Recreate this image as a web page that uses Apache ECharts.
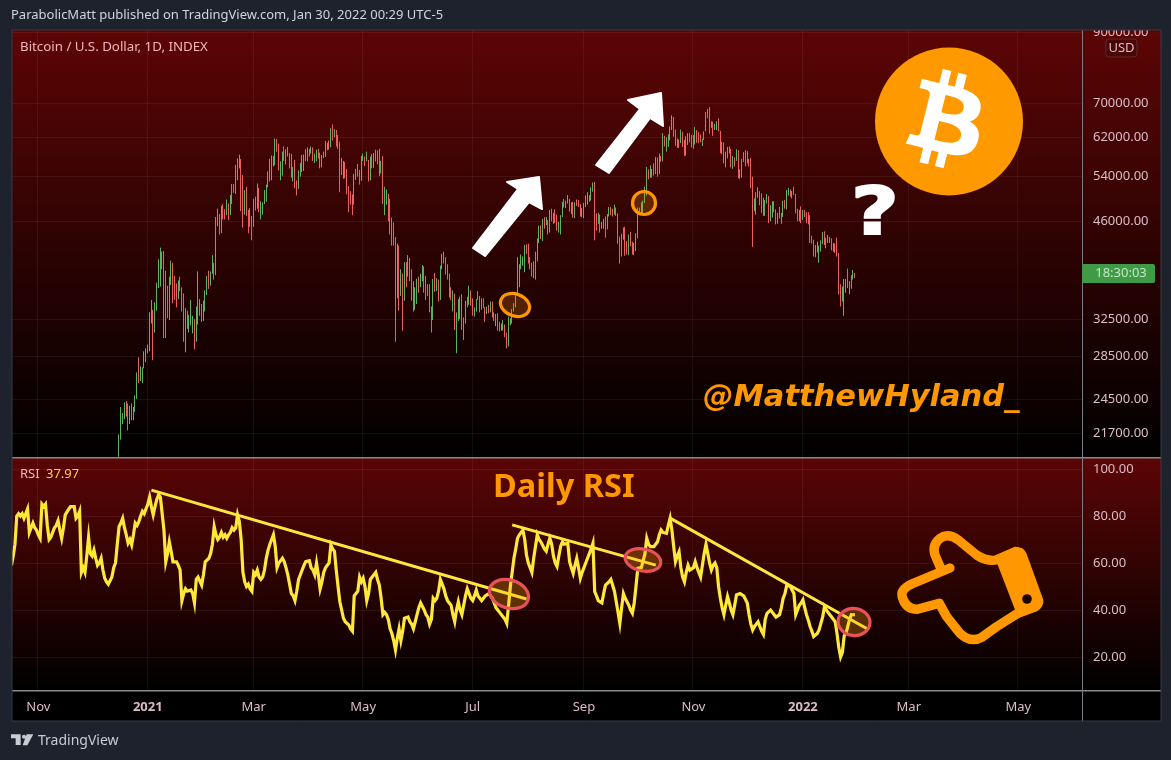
<!DOCTYPE html>
<html><head><meta charset="utf-8">
<style>html,body{margin:0;padding:0;background:#1e222d;overflow:hidden}#c{width:1171px;height:760px}</style>
<script src="https://cdn.jsdelivr.net/npm/echarts@6/dist/echarts.min.js"></script>
</head><body><div id="c"></div>
<script>
const priceTicks=[21700,24500,28500,32500,46000,54000,62000,70000,90000];
const rsiTicks=[20,40,60,80,100];
const firstDay='2020-10-17', lastDay='2022-06-05', firstCandle='2020-12-16';
// daily closes (thousand USD) from 2020-12-16
const closes=[21.3,22.8,23.1,23.8,23.45,22.7,23.8,23.2,23.7,24.65,26.4,26.25,27.05,27.35,28.9,29.0,
29.4,32.2,33.0,32.0,34.0,36.8,39.5,40.6,40.2,38.2,35.5,33.9,37.3,39.1,36.8,36.0,35.8,36.6,35.9,35.5,30.8,33.0,32.1,32.3,32.3,32.5,30.4,33.4,34.3,34.3,33.1,
33.5,35.5,37.7,36.9,38.3,39.3,38.9,46.4,46.5,45.0,48.0,47.4,47.2,48.7,47.9,49.1,52.1,51.6,55.9,55.9,57.4,54.1,48.9,49.7,47.0,46.3,46.1,45.2,
49.6,48.4,50.3,48.4,48.8,48.9,50.9,52.3,54.9,55.9,57.8,57.2,61.2,59.0,55.6,56.9,58.9,57.6,58.0,58.1,57.4,54.1,54.3,52.3,51.3,55.0,55.8,55.8,57.6,58.8,58.8,
58.7,58.9,57.0,58.2,59.1,58.0,55.9,58.1,58.1,59.8,59.9,59.8,63.5,62.9,63.2,61.3,60.0,56.2,55.7,56.5,53.8,51.7,51.2,50.1,49.1,54.0,55.0,54.8,53.6,57.7,
57.8,56.6,57.2,53.2,57.5,56.4,57.3,58.9,58.3,55.8,56.7,49.5,49.7,49.9,46.7,46.4,43.6,42.9,37.0,40.6,37.3,37.5,34.8,38.8,38.3,39.2,38.5,35.7,34.6,35.7,37.3,
36.7,37.6,39.2,36.9,35.5,35.8,33.6,33.4,37.4,36.7,37.3,35.5,39.0,40.5,40.1,38.3,38.1,35.8,35.5,35.6,31.6,32.5,33.7,34.6,31.6,32.3,34.7,34.5,35.9,35.0,
33.5,33.8,34.7,35.3,33.7,34.2,33.9,32.9,33.8,33.5,34.3,33.1,32.7,32.8,31.8,31.4,31.5,31.8,30.8,29.8,32.1,32.3,33.6,34.3,35.4,37.3,39.5,40.0,40.0,42.2,41.5,
39.9,39.2,38.2,39.7,40.9,42.8,44.6,43.8,46.3,45.6,45.6,44.4,47.8,47.1,47.0,45.9,44.7,44.8,46.7,49.3,48.9,49.3,49.5,47.7,49.0,46.9,49.1,48.9,48.8,47.0,47.1,
48.8,49.3,50.0,49.9,51.8,52.7,46.9,46.1,46.4,44.9,45.2,46.1,44.9,47.1,48.1,47.8,47.3,48.3,47.3,43.0,40.7,43.6,44.9,42.8,42.7,43.2,42.2,41.0,41.5,43.8,
48.1,47.7,48.2,49.2,51.5,55.3,53.8,53.9,55.0,54.7,57.5,56.0,57.4,57.3,61.7,60.9,61.5,62.0,64.3,65.9,62.2,60.7,61.3,60.9,63.1,60.3,58.4,60.6,62.3,61.9,61.3,
60.9,63.2,62.9,61.4,61.0,61.5,63.3,67.5,66.9,64.9,64.9,64.1,64.4,65.5,63.6,60.3,60.4,56.9,58.1,59.7,58.7,56.3,57.6,57.2,58.9,53.6,54.8,57.3,57.8,57.0,
57.2,56.5,53.6,49.2,49.4,50.6,50.6,50.5,47.7,47.2,49.4,50.1,46.7,48.4,48.9,47.6,46.2,46.9,46.7,46.9,49.0,48.6,50.8,50.8,50.4,50.8,50.7,47.5,46.5,47.1,46.3,
47.7,47.3,46.4,45.8,43.4,43.1,41.5,41.7,41.8,41.8,42.7,43.9,42.6,43.1,43.1,43.1,42.2,42.4,41.7,40.7,36.5,35.1,36.3,36.7,36.9,36.8,37.2,37.7,38.2,38.0];
const highs=[21.6,23.8,23.3,24.2,24.3,24.1,23.9,24.1,23.8,24.8,26.9,28.4,27.5,27.4,29.0,29.3,
29.7,33.3,34.8,33.6,34.5,37.0,40.2,41.9,41.3,41.4,38.6,36.6,37.8,40.0,39.7,37.9,36.9,37.3,37.8,36.4,35.6,33.8,33.5,33.0,34.8,32.9,32.5,34.0,38.5,34.9,34.3,
34.7,36.0,37.9,38.6,38.5,40.8,39.7,46.7,48.1,47.2,48.6,48.9,48.0,49.7,49.0,50.5,52.5,52.5,56.2,57.5,58.3,57.4,54.2,51.4,52.0,47.9,48.2,46.9,
49.8,50.2,52.6,51.8,49.4,49.2,51.4,52.4,54.9,57.4,58.1,58.0,61.7,61.6,60.6,56.9,58.9,60.0,59.4,59.9,58.6,58.4,55.8,57.2,53.2,55.1,56.6,58.2,58.3,59.4,59.8,
59.5,60.0,59.8,58.5,59.3,59.5,58.7,58.2,58.9,61.2,60.8,61.3,64.0,64.9,63.8,63.6,62.5,61.0,57.6,57.0,56.8,55.4,52.1,51.2,50.6,54.4,55.4,56.4,55.2,58.0,
58.5,57.9,58.9,57.2,57.9,58.4,58.6,59.3,59.2,59.5,57.0,58.0,52.0,51.5,50.7,49.8,46.6,45.8,43.5,42.5,42.2,38.8,38.2,39.8,39.8,40.8,40.4,38.8,37.2,36.4,37.5,
37.8,38.2,39.4,39.2,37.9,36.8,36.8,34.0,37.5,38.3,37.6,37.4,39.3,41.0,41.3,40.5,39.5,38.2,36.4,36.0,35.6,33.3,34.9,35.2,35.5,32.7,34.7,35.2,36.6,36.0,
35.0,33.9,34.9,35.9,35.3,35.0,35.0,33.9,34.0,34.2,34.6,34.6,33.3,33.1,33.2,32.2,32.0,32.4,31.9,31.0,32.8,32.6,33.7,34.4,35.4,40.5,39.5,40.9,40.6,42.3,42.4,
42.5,40.5,39.7,39.9,41.3,43.3,45.3,45.3,46.4,46.7,46.7,46.2,47.9,48.1,47.4,48.0,47.1,45.9,47.0,49.3,49.8,49.5,50.5,49.8,49.2,49.3,49.2,49.7,49.6,48.9,48.2,
49.1,50.4,51.0,50.5,51.9,52.8,52.9,47.3,47.4,47.1,45.9,46.4,46.8,47.2,48.4,48.4,48.1,48.8,48.3,47.3,43.6,44.0,45.0,45.1,42.9,43.9,44.3,42.8,42.6,44.1,
48.3,48.3,49.2,49.5,52.0,55.8,55.3,56.1,55.4,56.5,57.8,57.7,58.5,58.0,62.9,62.3,62.0,62.6,64.4,67.0,66.6,63.7,61.7,61.5,63.7,63.2,61.4,62.2,62.9,62.9,62.5,
62.5,64.3,63.6,63.1,62.6,61.7,63.3,67.8,68.5,69.0,65.6,65.5,65.0,65.6,66.3,63.4,61.0,60.9,58.9,59.9,60.0,59.5,58.0,57.7,59.4,59.2,55.3,57.4,58.8,59.2,
59.0,57.4,57.6,53.9,49.9,51.0,51.9,51.2,50.8,50.0,49.6,50.7,50.3,48.7,49.4,49.4,48.0,47.4,48.4,47.4,49.5,49.6,51.4,51.8,51.5,51.2,52.0,50.7,48.1,47.9,48.5,
47.9,47.9,47.5,47.5,47.0,43.7,43.1,42.3,42.8,42.2,43.0,44.3,44.4,43.4,43.8,43.5,43.3,42.6,42.5,43.4,41.1,36.8,36.5,37.5,37.5,38.9,37.2,38.0,38.7,38.3];
const lows=[19.95,21.2,22.4,22.8,23.0,21.9,22.4,22.7,22.7,23.4,24.5,25.9,26.1,25.9,27.3,27.9,
28.8,29.0,32.0,28.1,31.0,33.5,36.3,36.5,38.8,30.4,30.4,32.6,32.4,36.7,34.4,34.8,33.9,34.9,35.9,33.4,30.0,28.9,31.4,31.0,31.8,30.9,29.2,30.0,31.9,32.9,32.2,
32.3,33.4,35.4,36.2,36.6,38.2,37.4,38.0,45.2,43.9,44.1,46.3,46.3,47.0,46.2,47.0,48.9,50.9,50.7,53.2,55.5,47.7,45.0,47.1,46.9,44.1,45.1,43.0,
45.1,47.8,48.1,47.5,46.3,47.1,48.9,49.3,51.9,53.0,53.2,55.9,56.1,58.9,55.1,53.2,54.1,57.0,56.3,57.9,55.5,53.7,53.0,51.7,50.4,51.6,53.9,54.8,55.0,57.0,56.9,
57.9,58.5,57.0,56.6,56.9,57.5,55.5,55.7,57.6,57.8,59.2,59.3,59.8,61.3,62.0,60.0,59.5,51.0,54.2,53.5,53.6,50.6,47.5,48.8,47.0,48.8,53.3,53.9,52.4,53.1,
57.0,56.0,56.9,53.0,53.2,55.5,55.6,56.9,56.3,54.0,54.5,48.9,47.0,48.8,46.0,43.9,42.2,42.2,30.0,35.0,33.5,35.3,31.2,34.7,36.4,37.8,37.2,34.7,33.4,33.6,34.3,
35.7,36.4,37.2,35.7,34.8,35.3,33.3,31.0,32.4,35.8,35.9,34.6,34.8,38.8,39.6,38.1,37.4,35.1,34.8,33.4,31.3,28.8,32.3,32.5,31.3,30.2,32.0,33.9,34.2,34.1,
32.9,32.8,33.4,34.8,33.3,33.6,33.8,32.2,33.1,33.2,33.3,32.7,32.3,31.7,31.2,31.1,31.2,31.2,30.5,29.3,29.5,31.8,32.0,33.4,33.9,35.3,36.4,38.8,39.3,38.4,41.0,
39.6,38.8,37.8,37.6,37.4,39.9,42.6,43.2,42.9,44.8,45.4,43.9,44.2,46.0,45.6,45.7,44.5,44.2,43.9,46.7,48.3,48.2,49.0,47.6,47.2,46.6,46.5,48.6,48.4,46.8,46.7,
46.5,48.4,48.8,49.3,49.5,51.1,43.0,44.5,45.6,44.2,44.8,44.8,43.4,44.7,46.8,47.0,46.8,47.1,46.9,42.5,39.6,40.6,43.1,40.7,40.9,40.8,42.1,40.9,40.8,41.4,
43.3,47.5,47.3,47.2,49.1,50.4,53.4,53.7,53.7,54.1,54.4,53.9,54.4,56.8,56.9,60.0,58.9,59.9,61.3,63.6,62.1,60.1,59.7,59.7,60.7,59.9,58.0,58.1,60.3,60.9,59.8,
59.5,60.4,60.8,60.7,60.9,60.1,61.4,63.3,66.3,62.8,64.1,62.3,63.6,63.6,63.3,58.6,58.4,56.5,55.7,57.5,58.5,55.7,55.4,55.9,57.0,53.6,53.5,53.7,56.8,55.9,
56.5,55.9,51.7,42.0,47.7,47.1,50.0,48.7,47.4,46.9,46.9,49.0,45.7,46.0,46.6,47.5,45.5,45.6,46.5,45.6,46.7,48.1,48.0,50.4,50.2,49.9,50.5,47.3,46.0,46.0,45.7,
46.2,46.7,45.7,45.5,42.6,42.5,40.6,40.5,41.2,39.7,41.3,42.4,42.3,41.8,42.6,42.6,41.5,41.3,41.1,40.6,35.5,34.0,34.6,32.9,35.7,36.3,35.5,36.2,37.4,37.6];
const firstOpen=19.95;
// daily RSI from 2020-10-17
const rsi=[59,63,68,80,81,80,81,79,81,83,
73,75,77,75,74,72,70.5,85,84,85,
76,70,71,73,75,76,78,74,70.5,75,
80.5,81,83,84,84,84,79,80,82,56,
58,56,63,71,64,63,65.5,62,59,60,
62,57,53.5,52,51,51,54,58,60,68,
75.5,77,79,75,72,68.5,70,67.7,72,77,
76,77.6,80,82,81,83,85,88,84,80.5,
84,87,89,88,87.5,74,60.5,64,69,65,
60.5,61,60.5,59,57,44,47,49,48,48,
48.5,47,43,53,54,53.5,50.6,55,60.5,61,
62,64,68,75.5,72,70,71,73,71,72,
70.5,72,73,75,74,75,80.5,77.6,70,56,
52,50,51,49,48,56,55,57,54,53,
54,57,62,65.5,68,70,72,67,58,60,
61,62,60.6,58,55,51,47,46,44,48,
53,55,57,59,60.6,60,61,58,57,55,
60,55,49,52,56,58,59,60,67.7,66,
65,57,50,43.5,40,36.5,35,35,33.6,32,
31,46,47,48,54,52,53.5,50,44,47,
53,54,55,56,53,50.6,45,38,39,38,
36,32,30,27,23,28,32,27,31,36.5,
36,37,35,34,32,35,38,41,43,43.5,
40,38,37,34,36,45,44,45,48,53,
51,49,46,44,43,42,38,35,40,43.5,
40,38,42,46,49,47,45,44,46,48.5,
46,45,44,45,46,46,47,47,45,43,
41,40,39,38.6,37,36,34.3,42,50,56,
62,66,70.5,72,73,74,70,63.4,60,58,
56,62,67,72,70,69,68.4,66,65,68,
70.5,68,63,60,58.5,63,67,69,68,68,
68.4,60.6,58,55.6,59,62,58,53.5,56,58,
60,62,64,66,68.4,47.8,46,44,44,43,
47,50.6,51,52,53,53.5,48,43.5,39,34.3,
41,47,45,43.5,42,40,38.6,43,50,57.7,
58,58,58.5,64,70.5,68,67,66.2,67,66.2,
69,72,74,73,73,72.6,76,79,74,67,
60.6,63,64.8,58,54,52,56,59,57,56.3,
58,60.6,58,56,54,59,64,68,64,60,
57,59,60,58,50,45,41,38,42,45.7,
43,40,38,42,46.4,46,47,47,46,45.7,
43,38,34,31.5,33,34,35,33,31,29.6,
36,38.6,39,40,39,38,37,36.5,38,41,
45,47,50.6,51,50,50,47,38,40,42,
43,44.3,41,38,35.7,33,31,28.7,29,30,
31.5,31,37,41.4,40,39,38,37,36,35,
30,24,20,22,29,30,33,36,38,38,37.97];
const trend1=[['2021-01-03',91],['2021-07-31',44.7]];
const trend2=[['2021-07-23',76.2],['2021-10-11',59.1]];
const trend3=[['2021-10-19',79.1],['2022-02-06',31.9]];

const DAY=864e5;
const iso=t=>new Date(t).toISOString().slice(0,10);
const categories=[];
for(let t=Date.parse(firstDay);t<=Date.parse(lastDay);t+=DAY)categories.push(iso(t));
const candleStart=categories.indexOf(firstCandle);
const candles=closes.map((c,i)=>[candleStart+i,(i?closes[i-1]:firstOpen)*1000,c*1000,lows[i]*1000,highs[i]*1000]);
const isMonthTick=s=>s.slice(8)==='01'&&(+s.slice(5,7))%2===1;
const tickFn=(i,v)=>isMonthTick(v);
const MONTHS=['Jan','Feb','Mar','Apr','May','Jun','Jul','Aug','Sep','Oct','Nov','Dec'];
const TXT='#dcbcc6', FONT='"Noto Sans",sans-serif', ORANGE='#ff9800', PAGE='#1e222d';
const GRID='rgba(255,255,255,0.06)';
const bgGrad={type:'linear',x:0,y:0,x2:0,y2:1,colorStops:[{offset:0,color:'#5c0505'},{offset:1,color:'#000'}]};
const rect=(x,y,w,h,fill,z,extra)=>Object.assign({type:'rect',silent:true,z:z,shape:{x:0,y:0,width:w,height:h},x:x,y:y,style:{fill:fill}},extra||{});
const txt=(x,y,s,fill,size,z,extra,style)=>Object.assign({type:'text',silent:true,z:z,x:x,y:y,style:Object.assign({text:s,fill:fill,font:size+'px '+FONT,textVerticalAlign:'middle'},style||{})},extra||{});
const ell=(cx,cy,rx,ry,rot,stroke,fill)=>({type:'ellipse',silent:true,z:30,x:cx,y:cy,rotation:rot,shape:{cx:0,cy:0,rx:rx,ry:ry},style:{stroke:stroke,lineWidth:3.2,fill:fill}});
const pathEl=(d,x,y,s,style)=>({type:'path',x:x,y:y,scaleX:s,scaleY:s,shape:{pathData:d},style:style});
const BTC='M46.103 27.444c.637-4.258-2.605-6.547-7.038-8.074l1.438-5.768-3.511-.875-1.4 5.616c-.923-.23-1.871-.447-2.813-.662l1.41-5.653-3.509-.875-1.439 5.766c-.764-.174-1.514-.346-2.242-.527l.004-.018-4.842-1.209-.934 3.75s2.605.597 2.55.634c1.422.355 1.679 1.296 1.636 2.042l-1.638 6.571c.098.025.225.061.365.117l-.371-.092-2.296 9.205c-.174.432-.615 1.08-1.609.834.035.051-2.552-.637-2.552-.637l-1.743 4.019 4.569 1.139c.85.213 1.683.436 2.503.646l-1.453 5.834 3.507.875 1.439-5.772c.958.26 1.888.5 2.798.726l-1.434 5.745 3.511.875 1.453-5.823c5.987 1.133 10.489.676 12.384-4.739 1.527-4.36-.076-6.875-3.226-8.515 2.294-.529 4.022-2.038 4.483-5.155zM38.08 38.69c-1.085 4.36-8.426 2.003-10.806 1.412l1.928-7.729c2.38.594 10.012 1.77 8.878 6.317zm1.086-11.31c-.99 3.966-7.1 1.951-9.082 1.457l1.748-7.01c1.982.494 8.365 1.416 7.334 5.553z';
const ARROW1='M473 248L518 189L507 182L539 177L542 209L529 202L485 256Z';
const ARROW2='M596 165L640 109L628 100L661 93L663 126L650 118L609 173Z';
const HAND='M210 174L95 222Q62 238 66 258Q76 298 112 298L178 280L200 320L240 370Q272 400 305 382L350 350L410 312M350 150Q320 155 290 135L235 90Q205 68 180 85Q155 105 165 135L180 170';
const CUFF='M345 138L405 112Q430 112 437 130L488 270Q490 290 470 302L416 322Z';
const TV='M33 133H62V165H47V145H33ZM80 133H100L82 166H68ZM72 134a6 6 0 1 1-.01 0Z';

const chart=echarts.init(document.getElementById('c'),null,{renderer:'canvas'});
chart.setOption({
 animation:false,
 backgroundColor:PAGE,
 grid:[{left:10.5,width:1071.5,top:30,height:427},{left:10.5,width:1071.5,top:457,height:233}],
 xAxis:[
  {type:'category',gridIndex:0,data:categories,boundaryGap:true,axisLine:{show:false},axisTick:{show:false},axisLabel:{show:false},
   splitLine:{show:true,interval:tickFn,lineStyle:{color:GRID,width:1}}},
  {type:'category',gridIndex:1,data:categories,boundaryGap:true,axisLine:{show:false},axisTick:{show:false},
   axisLabel:{interval:tickFn,margin:9,padding:[2,0,0,0],color:TXT,fontFamily:FONT,fontSize:13,
    formatter:v=>{const m=+v.slice(5,7);return m===1?'{b|'+v.slice(0,4)+'}':MONTHS[m-1];},
    rich:{b:{fontWeight:'bold',color:TXT,fontFamily:FONT,fontSize:13}}},
   splitLine:{show:true,interval:tickFn,lineStyle:{color:GRID,width:1}}}
 ],
 yAxis:[
  {type:'log',logBase:10,gridIndex:0,position:'right',min:19930,max:90700,
   axisLine:{show:false},
   axisTick:{show:false,customValues:priceTicks},
   axisLabel:{customValues:priceTicks,margin:11,padding:[2,0,0,0],color:TXT,fontFamily:FONT,fontSize:13,showMinLabel:true,showMaxLabel:true,hideOverlap:false,formatter:v=>(+v).toFixed(2)},
   splitLine:{show:true,lineStyle:{color:GRID,width:1}}},
  {type:'value',gridIndex:1,position:'right',min:5.96,max:105.1,
   axisLine:{show:false},
   axisTick:{show:false,customValues:rsiTicks},
   axisLabel:{customValues:rsiTicks,margin:11,padding:[2,0,0,0],color:TXT,fontFamily:FONT,fontSize:13,formatter:v=>(+v).toFixed(2)},
   splitLine:{show:true,lineStyle:{color:GRID,width:1}}}
 ],
 series:[
  {type:'candlestick',xAxisIndex:0,yAxisIndex:0,data:candles,encode:{x:0,y:[1,2,3,4]},barWidth:0.6,large:false,progressive:0,
   itemStyle:{color:'#5fb35f',color0:'#e8605f',borderColor:'#5fb35f',borderColor0:'#e8605f',borderWidth:1}},
  {type:'line',xAxisIndex:1,yAxisIndex:1,data:rsi,showSymbol:false,smooth:false,lineStyle:{color:'#ffe83b',width:3.2,join:'miter'},itemStyle:{color:'#ffe83b'},z:4},
  ...[trend1,trend2,trend3].map(t=>({type:'line',xAxisIndex:1,yAxisIndex:1,data:t,showSymbol:false,lineStyle:{color:'#ffe83b',width:3},z:5})),
  {type:'custom',coordinateSystem:'none',data:[0],silent:true,z:30,renderItem:()=>({type:'group',children:[
    pathEl(ARROW1,0,0,1,{fill:'#fff',stroke:'#fff',lineWidth:2,lineJoin:'round'}),
    pathEl(ARROW2,0,0,1,{fill:'#fff',stroke:'#fff',lineWidth:2,lineJoin:'round'}),
    {type:'circle',shape:{cx:949,cy:121.5,r:74},style:{fill:'#ff9900'}},
    pathEl(BTC,946-32*2.45,120-32*2.45,2.45,{fill:'#fff'}),
    pathEl(HAND,880,510,1/3,{fill:'none',stroke:ORANGE,lineWidth:28,lineCap:'round',lineJoin:'round'}),
    pathEl(CUFF,880,510,1/3,{fill:ORANGE,stroke:ORANGE,lineWidth:4,lineJoin:'round'}),
    {type:'circle',shape:{cx:1027,cy:599,r:4.8},style:{fill:'#1c0202'}},
    pathEl(TV,0,690,1/3,{fill:'#c8ccd4'})
  ]})}
 ],
 graphic:{elements:[
  // panes
  rect(12,30,1149,427,bgGrad,-10),
  rect(12,457,1149,233,bgGrad,-10),
  rect(12,690,1149,31,'#000',-10),
  // chrome above the axes
  rect(0,0,1171,30,PAGE,40),
  rect(0,0,12,721,PAGE,40),
  rect(12,457,1149,1.5,'#8a8a90',41),
  rect(12,690,1149,1.5,'#8a8a90',41),
  rect(1082,30,1,691,'#7c7c84',41),
  {type:'rect',silent:true,z:41,shape:{x:12,y:30,width:1149,height:691},style:{fill:'none',stroke:'#363a45',lineWidth:1}},
  txt(11,15,'ParabolicMatt published on TradingView.com, Jan 30, 2022 00:29 UTC-5','#d1d4dc',13,42),
  txt(20,47,'Bitcoin / U.S. Dollar, 1D, INDEX','#f4b4bc',13.3,42),
  txt(20,474,'RSI','#f4b4bc',13,42),
  txt(46,474,'37.97','#ffcf5a',13,42),
  {type:'rect',silent:true,z:42,shape:{x:1106,y:39,width:31,height:18,r:3},style:{fill:'#4a0505',stroke:'#5e2a30',lineWidth:1}},
  txt(1121.5,48,'USD',TXT,13,43,null,{textAlign:'center'}),
  {type:'rect',silent:true,z:42,shape:{x:1082,y:264,width:73,height:19,r:2},style:{fill:'#3f9b46'}},
  txt(1121,273.5,'18:30:03','#c4e6c6',13,43,null,{textAlign:'center'}),
  // annotations
  ell(515,305,15,11,-0.35,ORANGE,'rgba(255,152,0,0.22)'),
  ell(644,203,11.5,11.5,0,ORANGE,'rgba(255,152,0,0.22)'),
  ell(509,594,20,14,-0.3,'#e8505c','rgba(255,170,0,0.28)'),
  ell(643,560,18,11,-0.2,'#e8505c','rgba(255,170,0,0.28)'),
  ell(854,622,16,13.5,-0.1,'#e8505c','rgba(255,170,0,0.28)'),
  txt(875,217,'?','#fff',66,31,{scaleX:1.25},{textAlign:'center',font:'bold 66px "DejaVu Sans",sans-serif',stroke:'#fff',lineWidth:2}),
  txt(703,398,'@MatthewHyland_',ORANGE,30.5,31,null,{font:'italic bold 30.5px "DejaVu Sans",sans-serif'}),
  txt(493,488,'Daily RSI',ORANGE,32.5,31,null,{font:'bold 32.5px "Noto Sans",sans-serif'}),
  txt(38,741,'TradingView','#c8ccd4',14,42)
 ]}
});
</script></body></html>
